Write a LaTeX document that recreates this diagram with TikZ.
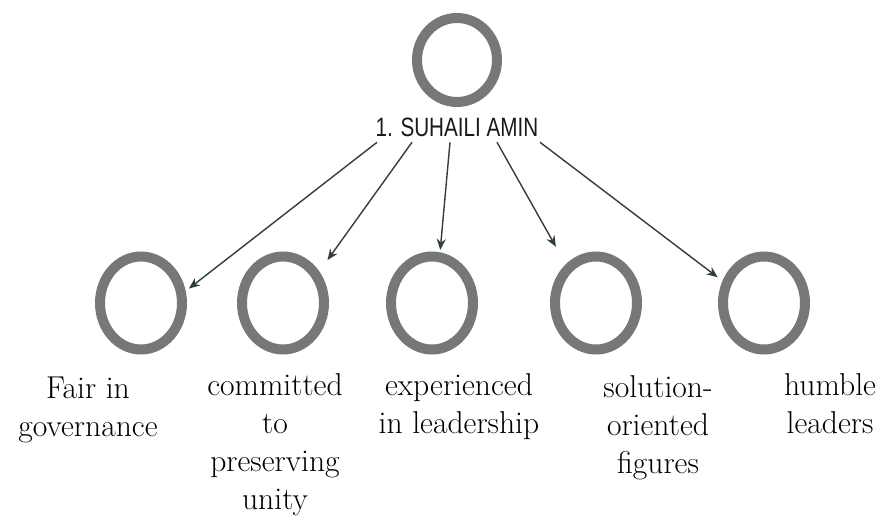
\documentclass[tikz,border=0pt]{standalone}
\usepackage{fontspec}
\newfontfamily\namefont{Liberation Sans}[FakeStretch=0.78]
\usetikzlibrary{arrows.meta,calc,shapes.geometric}
\definecolor{ringgray}{HTML}{777777}
\definecolor{linkdark}{HTML}{2F3F3C}
\tikzset{
  ring/.style={ellipse,draw=ringgray,line width=5pt,minimum width=41pt,
    minimum height=46.5pt,inner sep=0pt},
  link/.style={draw=linkdark,line width=0.7pt,
    -{Stealth[length=5.5pt,width=4.5pt]}},
  quality/.style={anchor=north,align=center,inner sep=0pt,
    font=\rmfamily\fontsize{15.8}{19}\selectfont}
}

\begin{document}
\begin{tikzpicture}[x=0.5pt,y=-0.5pt]
  \useasboundingbox (0,0) rectangle (883,519);
  % leader
  \node[ring,minimum width=40pt,minimum height=42pt] (top) at (457,60) {};
  \node[inner sep=0pt,text=black!90,font=\namefont\fontsize{13.25}{15}\selectfont]
    (lead) at (457,127.5) {1. SUHAILI AMIN};
  % qualities
  \foreach \n/\x in {c1/141,c2/283,c3/432,c4/596,c5/764}
    {\node[ring] (\n) at (\x,303) {};}
  \node[quality] (fair) at (88,376.5) {Fair in\\governance};
  \node[quality] (unity) at (275,373.5) {committed\\to\\preserving\\unity};
  \node[quality] (exp) at (459,373.5) {experienced\\in leadership};
  \node[quality] (sol) at (658,375.5) {solution-\\oriented\\figures};
  \node[quality] (hum) at (830,373.5) {humble\\leaders};
  \foreach \n/\dx/\a/\s in {c1/-80/15/2pt,c2/-45/41/7pt,c3/-7/81/1.2pt,
      c4/40/128/10pt,c5/83/152/3pt}
    {\draw[link,shorten >=\s] ($(lead.south)+(\dx,5)$) -- (\n.\a);}
\end{tikzpicture}
\end{document}
